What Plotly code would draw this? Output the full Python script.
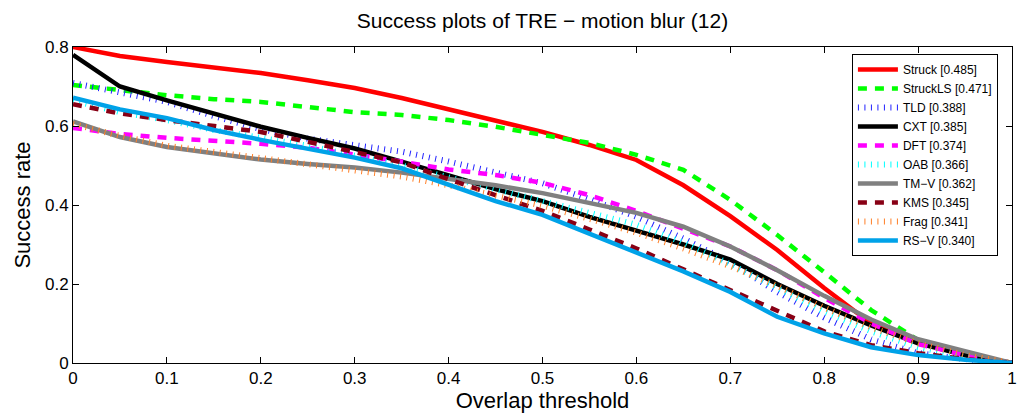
import plotly.graph_objects as go

# Overlap thresholds (x axis samples)
thresholds = [0.0, 0.05, 0.1, 0.15, 0.2, 0.25, 0.3, 0.35, 0.4, 0.45, 0.5,
              0.55, 0.6, 0.65, 0.7, 0.75, 0.8, 0.85, 0.9, 0.95, 1.0]

# Success rate per tracker (TRE, motion blur subset)
struck = [0.800, 0.777, 0.762, 0.748, 0.734, 0.716, 0.696, 0.671, 0.643, 0.613, 0.585,
          0.552, 0.514, 0.450, 0.372, 0.286, 0.190, 0.100, 0.053, 0.020, 0.0]
struckls = [0.704, 0.690, 0.678, 0.668, 0.661, 0.648, 0.635, 0.628, 0.615, 0.598, 0.577,
            0.557, 0.527, 0.489, 0.413, 0.324, 0.230, 0.134, 0.058, 0.020, 0.0]
tld = [0.709, 0.686, 0.661, 0.625, 0.592, 0.568, 0.553, 0.535, 0.510, 0.482, 0.455,
       0.415, 0.370, 0.315, 0.255, 0.180, 0.115, 0.060, 0.025, 0.010, 0.0]
cxt = [0.780, 0.700, 0.665, 0.632, 0.598, 0.570, 0.543, 0.510, 0.476, 0.440, 0.410,
       0.370, 0.335, 0.300, 0.262, 0.200, 0.145, 0.095, 0.050, 0.020, 0.0]
dft = [0.595, 0.580, 0.570, 0.563, 0.555, 0.545, 0.528, 0.510, 0.490, 0.476, 0.456,
       0.425, 0.385, 0.340, 0.295, 0.235, 0.165, 0.100, 0.048, 0.020, 0.0]
oab = [0.665, 0.635, 0.615, 0.590, 0.570, 0.550, 0.525, 0.500, 0.470, 0.440, 0.410,
       0.380, 0.350, 0.305, 0.250, 0.190, 0.130, 0.080, 0.040, 0.015, 0.0]
tmv = [0.612, 0.572, 0.547, 0.530, 0.515, 0.504, 0.495, 0.482, 0.465, 0.450, 0.430,
       0.405, 0.380, 0.345, 0.295, 0.235, 0.170, 0.110, 0.060, 0.030, 0.0]
kms = [0.655, 0.632, 0.615, 0.600, 0.585, 0.560, 0.535, 0.508, 0.465, 0.425, 0.385,
       0.338, 0.290, 0.237, 0.185, 0.130, 0.080, 0.045, 0.025, 0.010, 0.0]
frag = [0.605, 0.575, 0.550, 0.535, 0.520, 0.505, 0.490, 0.472, 0.450, 0.425, 0.398,
        0.365, 0.330, 0.290, 0.245, 0.195, 0.140, 0.090, 0.050, 0.020, 0.0]
rsv = [0.672, 0.642, 0.620, 0.590, 0.565, 0.543, 0.520, 0.493, 0.450, 0.410, 0.375,
       0.328, 0.280, 0.232, 0.180, 0.117, 0.075, 0.040, 0.020, 0.008, 0.0]

names = ["Struck", "StruckLS", "TLD", "CXT", "DFT", "OAB", "TM\u2212V", "KMS", "Frag", "RS\u2212V"]
scores = ["0.485", "0.471", "0.388", "0.385", "0.374", "0.366", "0.362", "0.345", "0.341", "0.340"]
series = [struck, struckls, tld, cxt, dft, oab, tmv, kms, frag, rsv]
colors = ["#ff0000", "#00ff00", "#2222ff", "#000000", "#ff00ff", "#00ffff",
          "#808080", "#880015", "#ff7f27", "#00a2e8"]
styles = ["solid", "dash", "dot", "solid", "dash", "dot", "solid", "dash", "dot", "solid"]

# thin, wide dashes on the dotted style give the short perpendicular ticks
dash_map = {"solid": "solid", "dash": "9px,8px", "dot": "1px,5.5px"}
width_map = {"solid": 4.5, "dash": 4.5, "dot": 6}

x_ticks = [0, 0.1, 0.2, 0.3, 0.4, 0.5, 0.6, 0.7, 0.8, 0.9, 1]
x_ticktext = ["0", "0.1", "0.2", "0.3", "0.4", "0.5", "0.6", "0.7", "0.8", "0.9", "1"]
y_ticks = [0, 0.2, 0.4, 0.6, 0.8]
y_ticktext = ["0", "0.2", "0.4", "0.6", "0.8"]

fig = go.Figure()
for name, score, ys, col, st in zip(names, scores, series, colors, styles):
    fig.add_trace(go.Scatter(
        x=thresholds, y=ys, mode="lines",
        name=f"{name} [{score}]",
        line=dict(color=col, width=width_map[st], dash=dash_map[st]),
    ))

font_family = "Liberation Sans, Arial, Helvetica, sans-serif"

fig.update_layout(
    width=1019, height=419,
    margin=dict(l=73, r=2, t=47, b=56),
    paper_bgcolor="white", plot_bgcolor="white",
    font=dict(family=font_family, color="black", size=17),
    title=dict(text="Success plots of TRE \u2212 motion blur (12)",
               x=0.5, xref="paper", y=1 - 21 / 419, yref="container",
               xanchor="center", yanchor="middle",
               font=dict(size=21, family=font_family, color="black")),
    showlegend=True,
    legend=dict(x=0.985, y=0.978, xanchor="right", yanchor="top",
                bgcolor="white", bordercolor="black", borderwidth=1,
                font=dict(size=12, family=font_family, color="black"),
                tracegroupgap=0, itemwidth=40),
)

axis_common = dict(showline=True, linecolor="black", linewidth=1, mirror="ticks",
                   ticks="inside", ticklen=6, tickwidth=1, tickcolor="black",
                   showgrid=False, zeroline=False, ticklabeloverflow="allow",
                   tickfont=dict(size=17, family=font_family, color="black"))

fig.update_xaxes(range=[0, 1], tickvals=x_ticks, ticktext=x_ticktext,
                 title=dict(text="Overlap threshold", standoff=4,
                            font=dict(size=22, family=font_family, color="black")),
                 **axis_common)
fig.update_yaxes(range=[0, 0.8], tickvals=y_ticks, ticktext=y_ticktext,
                 title=dict(text="Success rate", standoff=8,
                            font=dict(size=22, family=font_family, color="black")),
                 **axis_common)

fig.write_html("out.html")
